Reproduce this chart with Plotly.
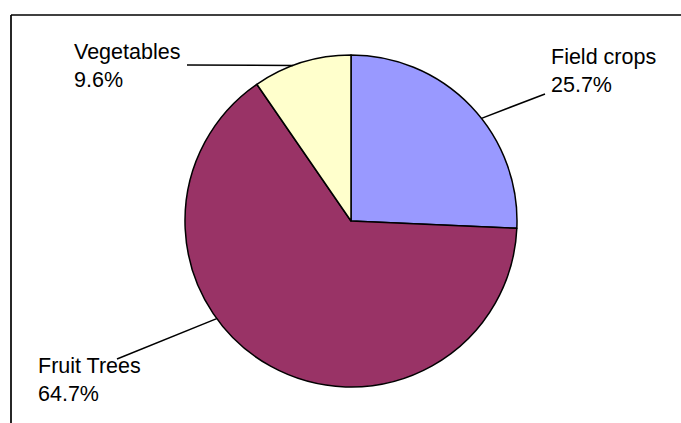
import math
import plotly.graph_objects as go

# Share of area by crop type
categories = ["Field crops", "Fruit Trees", "Vegetables"]
shares = [25.7, 64.7, 9.6]
colors = ["#9999FF", "#993366", "#FFFFCC"]

W, H = 681, 423
CX, CY, R = 351, 221, 166  # pie centre and radius in pixels


def px(x):
    return x / W


def py(y):
    return 1 - y / H


def edge(angle_deg):
    """Point on the pie rim, angle measured clockwise from 12 o'clock."""
    a = math.radians(angle_deg)
    return CX + R * math.sin(a), CY - R * math.cos(a)


fig = go.Figure(
    go.Pie(
        labels=categories,
        values=shares,
        sort=False,
        direction="clockwise",
        rotation=0,
        marker=dict(colors=colors, line=dict(color="black", width=1.5)),
        textinfo="none",
        hoverinfo="label+percent",
        showlegend=False,
        domain=dict(x=[px(CX - R), px(CX + R)], y=[py(CY + R), py(CY - R)]),
    )
)

# Label placement: (text-left x, text-centre y, rim angle, elbow point)
label_layout = {
    "Field crops": (549, 71, 51.8, (545, 94)),
    "Fruit Trees": (36, 380, 234.0, (117, 359)),
    "Vegetables": (72, 66, 339.6, (187, 65)),
}

shapes = []
annotations = []
for name, val in zip(categories, shares):
    tx, ty, ang, (ex, ey) = label_layout[name]
    sx, sy = edge(ang)
    shapes.append(dict(type="line", xref="paper", yref="paper",
                       x0=px(sx), y0=py(sy), x1=px(ex), y1=py(ey),
                       line=dict(color="black", width=1.5)))
    annotations.append(dict(
        text=f"{name}<br>{val:.1f}%", x=px(tx), y=py(ty),
        xref="paper", yref="paper", xanchor="left", yanchor="middle",
        align="left", showarrow=False,
        font=dict(family="Liberation Sans, Arial, sans-serif", size=21.5, color="black"),
    ))

# Chart frame: left and top edges
shapes.append(dict(type="line", xref="paper", yref="paper",
                   x0=px(11), y0=py(15), x1=px(W + 5), y1=py(15),
                   line=dict(color="black", width=1.7)))
shapes.append(dict(type="line", xref="paper", yref="paper",
                   x0=px(11), y0=py(15), x1=px(11), y1=py(H + 5),
                   line=dict(color="black", width=1.7)))

fig.update_layout(
    width=W, height=H,
    margin=dict(l=0, r=0, t=0, b=0),
    paper_bgcolor="white", plot_bgcolor="white",
    shapes=shapes, annotations=annotations,
)

fig.write_html("out.html")
